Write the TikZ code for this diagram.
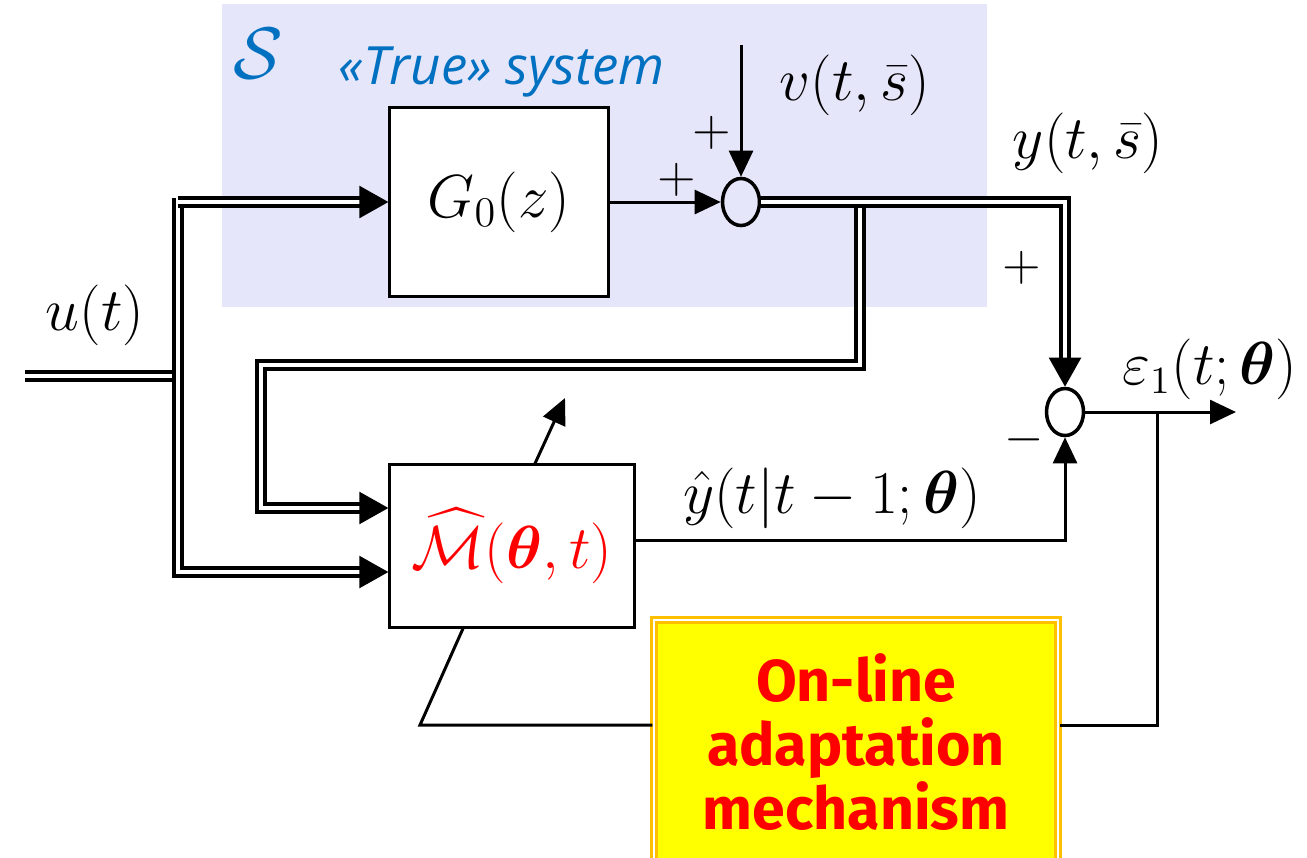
\documentclass[tikz,border=0pt]{standalone}
\usepackage{amsmath,amssymb}
\usepackage{fontspec}
\usetikzlibrary{arrows.meta,positioning,shapes.geometric,calc}
\newfontfamily\tagfont{Open Sans}
\newfontfamily\adaptfont{Fira Sans}
\definecolor{SysLavender}{RGB}{230,230,250}
\definecolor{SysBlue}{RGB}{0,112,192}
\definecolor{AdaptYellow}{RGB}{255,255,0}
\definecolor{AdaptOrange}{RGB}{255,192,0}
\definecolor{ModelRed}{RGB}{255,0,0}
\tikzset{
  block/.style={draw,fill=white,line width=0.85pt,align=center,inner sep=0pt,
    font=\fontsize{16}{19}\selectfont},
  sumnode/.style={draw,ellipse,line width=1pt,minimum width=0.37cm,
    minimum height=0.47cm,inner sep=0pt},
  lbl/.style={font=\fontsize{16}{19}\selectfont,inner sep=0pt},
  sign/.style={font=\fontsize{14}{16}\selectfont,inner sep=0pt},
  adapt/.style={draw=AdaptOrange,double=white,line width=0.9pt,double distance=0.5pt,
    fill=AdaptYellow,minimum width=4.04cm,minimum height=2.44cm,align=center,
    text=ModelRed,font=\adaptfont\bfseries\fontsize{16.8}{18.2}\selectfont},
  line/.style={line width=0.85pt},
  arrow/.style={-{Triangle[length=7.4pt,width=6.8pt]},line width=0.85pt},
  bus/.style={double,line width=1.15pt,double distance=1.2pt},
  busarrow/.style={bus,-{Triangle[length=8.3pt,width=9pt]}}
}
\begin{document}
\begin{tikzpicture}[x=0.01cm,y=-0.01cm]
  \useasboundingbox (0,0) rectangle (1307,857);
  \fill[SysLavender] (222,4) rectangle (987,307);
  \node[text=SysBlue,font=\fontsize{21}{25}\selectfont] (sysname) at (258,54) {$\mathcal{S}$};
  \node[text=SysBlue,font=\tagfont\itshape\fontsize{15}{18}\selectfont] (systag) at (502,72) {«True» system};

  \node[block,minimum width=2.18cm,minimum height=1.88cm,font=\fontsize{17}{20}\selectfont] (G0) at (499,202) {$G_0(z)$};
  \node[sumnode] (sum1) at (741,202) {};
  \node[sumnode,fill=white] (sum2) at (1065,412) {};
  \node[block,minimum width=2.44cm,minimum height=1.62cm,text=ModelRed] (M) at (512,546)
    {$\widehat{\mathcal{M}}(\boldsymbol{\theta},t)$};
  \node[adapt] (adapt) at (856,742) {On-line\\adaptation\\mechanism};

  \coordinate (uin) at (25,376);
  \coordinate (ujoin) at (172,376);
  \coordinate (bustop) at (178,198);
  \coordinate (busin) at (178,202);
  \coordinate (vin) at (741,45);
  \coordinate (fbtop) at (860,202);
  \coordinate (fbright) at (860,365);
  \coordinate (fbleft) at (261,365);
  \coordinate (out) at (1236,412);
  \coordinate (ebranch) at (1157,412);
  \coordinate (kink) at (420,725);
  \coordinate (tune) at (565,398);
  \coordinate (Min1) at ([yshift=0.38cm]M.west);
  \coordinate (Min2) at ([yshift=-0.26cm]M.west);
  \coordinate (Mout) at ([yshift=0.06cm]M.east);
  \coordinate (Mbot) at ([xshift=-0.49cm]M.south);
  \coordinate (Mtop) at ([xshift=0.23cm]M.north);
  \coordinate (adL) at ([yshift=0.17cm]adapt.west);
  \coordinate (adR) at ([yshift=0.17cm]adapt.east);

  \draw[bus] (uin) -- (ujoin);
  \draw[busarrow] (bustop) |- (Min2);
  \draw[busarrow] (busin) -- (G0.west);
  \draw[busarrow] (fbtop) -- (fbright) -- (fbleft) |- (Min1);
  \draw[busarrow] (sum1.east) -| (sum2.north);
  \draw[arrow] (G0.east) -- (sum1.west);
  \draw[arrow] (vin) -- (sum1.north);
  \draw[arrow] (Mout) -| (sum2.south);
  \draw[arrow] (sum2.east) -- (out);
  \draw[line] (ebranch) |- (adR);
  \draw[line] (adL) -- (kink) -- (Mbot);
  \draw[arrow] (Mtop) -- (tune);

  \node[lbl,anchor=base] (ulbl) at (95,330) {$u(t)$};
  \node[lbl,anchor=base] (vlbl) at (855,100) {$v(t,\bar{s})$};
  \node[lbl,anchor=base] (ylbl) at (1088,158) {$y(t,\bar{s})$};
  \node[lbl,anchor=base] (yhatlbl) at (832,513) {$\hat{y}(t|t-1;\boldsymbol{\theta})$};
  \node[lbl,anchor=base] (epslbl) at (1210,384) {$\varepsilon_1(t;\boldsymbol{\theta})$};
  \node[sign] (p1) at (712,133) {$+$};
  \node[sign] (p2) at (677,180) {$+$};
  \node[sign] (p3) at (1022,268) {$+$};
  \node[sign] (m1) at (1024,440) {$-$};
\end{tikzpicture}
\end{document}
